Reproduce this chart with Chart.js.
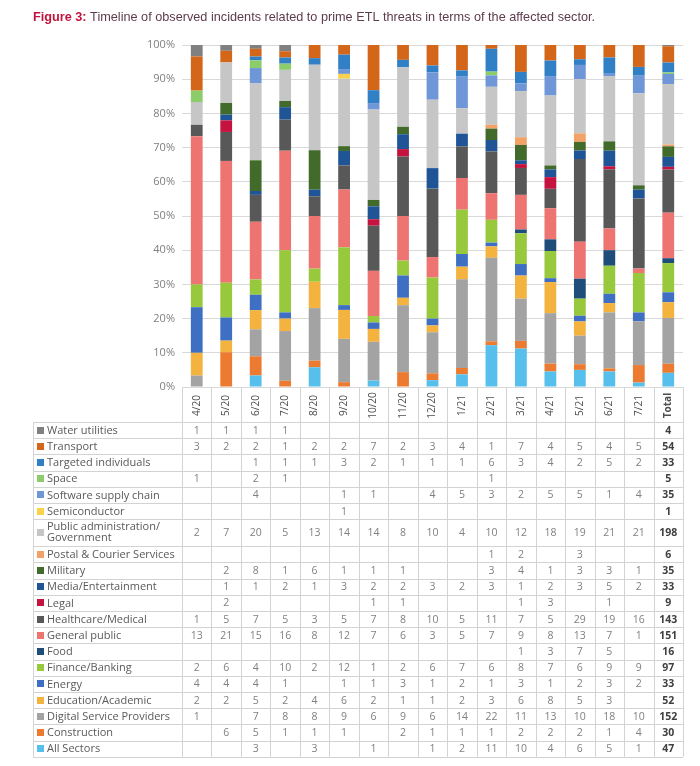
<!DOCTYPE html>
<html>
<head>
<meta charset="utf-8">
<script src="https://cdn.jsdelivr.net/npm/chart.js"></script>
<style>
  body { margin: 0; background: #fff; }
  canvas { display: block; }
</style>
</head>
<body>
<canvas id="sectorChart" width="700" height="766"></canvas>
<script>
// months shown on the x axis, plus the Total column
var months = ['4/20','5/20','6/20','7/20','8/20','9/20','10/20','11/20','12/20','1/21','2/21','3/21','4/21','5/21','6/21','7/21'];
var yTicks = [0, 10, 20, 30, 40, 50, 60, 70, 80, 90, 100];

// one array per sector, month by month (null = empty cell)
var waterUtilities      = [1, 1, 1, 1, null, null, null, null, null, null, null, null, null, null, null, null];
var transport           = [3, 2, 2, 1, 2, 2, 7, 2, 3, 4, 1, 7, 4, 5, 4, 5];
var targetedIndividuals = [null, null, 1, 1, 1, 3, 2, 1, 1, 1, 6, 3, 4, 2, 5, 2];
var space               = [1, null, 2, 1, null, null, null, null, null, null, 1, null, null, null, null, null];
var softwareSupplyChain = [null, null, 4, null, null, 1, 1, null, 4, 5, 3, 2, 5, 5, 1, 4];
var semiconductor       = [null, null, null, null, null, 1, null, null, null, null, null, null, null, null, null, null];
var publicAdmin         = [2, 7, 20, 5, 13, 14, 14, 8, 10, 4, 10, 12, 18, 19, 21, 21];
var postalCourier       = [null, null, null, null, null, null, null, null, null, null, 1, 2, null, 3, null, null];
var military            = [null, 2, 8, 1, 6, 1, 1, 1, null, null, 3, 4, 1, 3, 3, 1];
var mediaEntertainment  = [null, 1, 1, 2, 1, 3, 2, 2, 3, 2, 3, 1, 2, 3, 5, 2];
var legal               = [null, 2, null, null, null, null, 1, 1, null, null, null, 1, 3, null, 1, null];
var healthcare          = [1, 5, 7, 5, 3, 5, 7, 8, 10, 5, 11, 7, 5, 29, 19, 16];
var generalPublic       = [13, 21, 15, 16, 8, 12, 7, 6, 3, 5, 7, 9, 8, 13, 7, 1];
var food                = [null, null, null, null, null, null, null, null, null, null, null, 1, 3, 7, 5, null];
var financeBanking      = [2, 6, 4, 10, 2, 12, 1, 2, 6, 7, 6, 8, 7, 6, 9, 9];
var energy              = [4, 4, 4, 1, null, 1, 1, 3, 1, 2, 1, 3, 1, 2, 3, 2];
var education           = [2, 2, 5, 2, 4, 6, 2, 1, 1, 2, 3, 6, 8, 5, 3, null];
var digitalProviders    = [1, null, 7, 8, 8, 9, 6, 9, 6, 14, 22, 11, 13, 10, 18, 10];
var construction        = [null, 6, 5, 1, 1, 1, null, 2, 1, 1, 1, 2, 2, 2, 1, 4];
var allSectors          = [null, null, 3, null, 3, null, 1, null, 1, 2, 11, 10, 4, 6, 5, 1];

// Total column, in the same order as the table rows
var totals = [4, 54, 33, 5, 35, 1, 198, 6, 35, 33, 9, 143, 151, 16, 97, 33, 52, 152, 30, 47];

// table rows, top to bottom (the bars stack in the reverse order)
var sectors = [
  ['Water utilities',        waterUtilities,      '#808080'],
  ['Transport',              transport,           '#d4661a'],
  ['Targeted individuals',   targetedIndividuals, '#3180c6'],
  ['Space',                  space,               '#8ccd6a'],
  ['Software supply chain',  softwareSupplyChain, '#6f96d6'],
  ['Semiconductor',          semiconductor,       '#fcd14c'],
  ['Public administration/\nGovernment', publicAdmin, '#c6c6c6'],
  ['Postal & Courier Services', postalCourier,    '#f3a267'],
  ['Military',               military,            '#426a2b'],
  ['Media/Entertainment',    mediaEntertainment,  '#1f5597'],
  ['Legal',                  legal,               '#c6123f'],
  ['Healthcare/Medical',     healthcare,          '#585858'],
  ['General public',         generalPublic,       '#ee7471'],
  ['Food',                   food,                '#1f4d7a'],
  ['Finance/Banking',        financeBanking,      '#98c83b'],
  ['Energy',                 energy,              '#3e6fc3'],
  ['Education/Academic',     education,           '#f4b23e'],
  ['Digital Service Providers', digitalProviders, '#a3a3a3'],
  ['Construction',           construction,        '#ec7b31'],
  ['All Sectors',            allSectors,          '#56bfec']
];

var labels = months.concat(['Total']);

// counts per column including the Total column
var rows = sectors.map(function(s, i){ return s[1].concat([totals[i]]); });
var colSums = labels.map(function(l, c){
  var t = 0;
  rows.forEach(function(r){ t += r[c] || 0; });
  return t;
});

var datasets = [];
for (var i = sectors.length - 1; i >= 0; i--) {
  datasets.push({
    label: sectors[i][0],
    data: rows[i].map(function(v, c){ return v ? v / colSums[c] * 100 : null; }),
    backgroundColor: sectors[i][2],
    borderWidth: 0,
    barPercentage: 0.4,
    categoryPercentage: 1
  });
}

var TABLE_TOP = 422;
var TABLE_LEFT = 33;
var ROW_H = 16.2;
var ROW_H_TALL = 27;

var tablePlugin = {
  id: 'sectorTable',
  afterDraw: function(chart){
    var ctx = chart.ctx;
    var xs = chart.scales.x;
    var area = chart.chartArea;
    var half = (xs.getPixelForValue(1) - xs.getPixelForValue(0)) / 2;
    var firstCol = xs.getPixelForValue(0) - half;
    var right = area.right;

    ctx.save();
    // title
    ctx.textBaseline = 'alphabetic';
    ctx.textAlign = 'left';
    ctx.font = 'bold 12.7px "Liberation Sans", Arial, sans-serif';
    ctx.fillStyle = '#c0143c';
    var head = 'Figure 3:';
    ctx.fillText(head, 33, 21);
    var w = ctx.measureText(head).width;
    ctx.font = '12.7px "Liberation Sans", Arial, sans-serif';
    ctx.fillStyle = '#5e3b4c';
    ctx.fillText(' Timeline of observed incidents related to prime ETL threats in terms of the affected sector.', 33 + w, 21);

    // column headings, rotated, centred in their cells
    var headMid = (area.bottom + TABLE_TOP) / 2;
    ctx.textBaseline = 'middle';
    ctx.textAlign = 'center';
    labels.forEach(function(l, c){
      var last = c === labels.length - 1;
      ctx.save();
      ctx.translate(xs.getPixelForValue(c), headMid + 1);
      ctx.rotate(-Math.PI / 2);
      ctx.font = (last ? 'bold ' : '') + '10px "Open Sans", sans-serif';
      ctx.fillStyle = '#4d4d4d';
      ctx.fillText(l, 0, 0);
      ctx.restore();
    });

    // grid of the table
    var heights = sectors.map(function(s){ return s[0].indexOf('\n') >= 0 ? ROW_H_TALL : ROW_H; });
    var bottom = TABLE_TOP + heights.reduce(function(a, b){ return a + b; }, 0);
    ctx.strokeStyle = '#d3d3d3';
    ctx.lineWidth = 1;
    ctx.beginPath();
    for (var c = 0; c <= labels.length; c++) {
      var xx = Math.round(firstCol + c * half * 2) + 0.5;
      ctx.moveTo(xx, area.bottom);
      ctx.lineTo(xx, bottom);
    }
    ctx.moveTo(TABLE_LEFT + 0.5, TABLE_TOP);
    ctx.lineTo(TABLE_LEFT + 0.5, bottom);
    var y = TABLE_TOP;
    ctx.moveTo(TABLE_LEFT, Math.round(y) + 0.5);
    ctx.lineTo(right, Math.round(y) + 0.5);
    heights.forEach(function(h){
      y += h;
      ctx.moveTo(TABLE_LEFT, Math.round(y) + 0.5);
      ctx.lineTo(right, Math.round(y) + 0.5);
    });
    ctx.stroke();

    // rows
    y = TABLE_TOP;
    ctx.textBaseline = 'middle';
    sectors.forEach(function(s, r){
      var h = heights[r];
      var cy = y + h / 2;
      ctx.fillStyle = s[2];
      ctx.fillRect(37, Math.round(cy - 3.5), 7, 7);
      ctx.textAlign = 'left';
      ctx.font = '11px "Open Sans", sans-serif';
      ctx.fillStyle = '#595959';
      var parts = s[0].split('\n');
      if (parts.length > 1) {
        ctx.fillText(parts[0], 47, cy - 5.5);
        ctx.fillText(parts[1], 47, cy + 5.5);
      } else {
        ctx.fillText(parts[0], 47, cy + 0.5);
      }
      ctx.textAlign = 'center';
      rows[r].forEach(function(v, c){
        if (v === null) return;
        var last = c === labels.length - 1;
        ctx.font = (last ? 'bold ' : '') + '10.5px "Open Sans", sans-serif';
        ctx.fillStyle = last ? '#404040' : '#808080';
        ctx.fillText(String(v), xs.getPixelForValue(c), cy + 0.5);
      });
      y += h;
    });
    ctx.restore();
  }
};

new Chart(document.getElementById('sectorChart'), {
  type: 'bar',
  data: { labels: labels, datasets: datasets },
  options: {
    responsive: false,
    animation: false,
    layout: { padding: { top: 45, right: 17, left: 0, bottom: 766 - TABLE_TOP } },
    plugins: { legend: { display: false }, tooltip: { enabled: false }, title: { display: false } },
    scales: {
      x: {
        stacked: true,
        grid: { display: false },
        border: { display: false },
        afterFit: function(scale){ scale.height = TABLE_TOP - 387; },
        ticks: { display: false, autoSkip: false }
      },
      y: {
        stacked: true,
        min: 0,
        max: 100,
        afterFit: function(scale){ scale.width = 182; },
        afterBuildTicks: function(scale){ scale.ticks = yTicks.map(function(v){ return { value: v }; }); },
        border: { display: false },
        grid: { color: '#d9d9d9', drawTicks: false },
        ticks: {
          padding: 7,
          color: '#7f7f7f',
          font: { family: '"Open Sans", sans-serif', size: 11 },
          callback: function(v){ return v + '%'; }
        }
      }
    }
  },
  plugins: [tablePlugin]
});
</script>
</body>
</html>
